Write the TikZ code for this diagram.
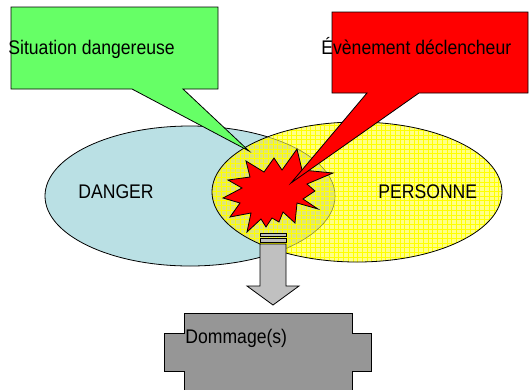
\documentclass[tikz,border=0pt]{standalone}
\usepackage{fontspec}
\setmainfont{Liberation Sans}
\definecolor{dangerblue}{RGB}{186,224,228}
\definecolor{paleyellow}{RGB}{255,255,135}
\definecolor{gridyellow}{RGB}{255,255,0}
\definecolor{overlapfill}{RGB}{224,230,118}
\definecolor{overlapedge}{RGB}{140,140,50}
\definecolor{calloutgreen}{RGB}{102,255,102}
\definecolor{arrowgray}{RGB}{192,192,192}
\definecolor{damagegray}{RGB}{150,150,150}
\begin{document}
\begin{tikzpicture}[x=1pt,y=-1pt,line width=0.8pt,line join=miter,
  lbl/.style={font=\fontsize{17.6}{20}\selectfont,inner sep=0pt,yscale=1.12},
  outlined/.style={draw=black}]
\useasboundingbox (0,0) rectangle (529,389);
\clip (0,0) rectangle (529,389);

% DANGER ellipse
\path[fill=dangerblue,outlined] (190,196) ellipse [x radius=145,y radius=70];

% PERSONNE ellipse: pale yellow, tinted where it covers DANGER, yellow grid
\path[fill=paleyellow] (357,192) ellipse [x radius=145,y radius=70];
\begin{scope}
  \clip (357,192) ellipse [x radius=145,y radius=70];
  \path[fill=overlapfill] (190,196) ellipse [x radius=145,y radius=70];
  \foreach \i in {0,...,62} {
    \draw[gridyellow,line width=0.9pt] ({212+4.7*\i},118) -- ++(0,150);
  }
  \foreach \j in {0,...,31} {
    \draw[gridyellow,line width=0.9pt] (208,{121+4.7*\j}) -- ++(300,0);
  }
  \draw[overlapedge,line width=0.6pt] (190,196) ellipse [x radius=145,y radius=70];
\end{scope}
\draw[outlined] (357,192) ellipse [x radius=145,y radius=70];

% green callout
\path[fill=calloutgreen,outlined] (11,7) -- (218,7) -- (218,89) -- (183,89)
  -- (249,151) -- (132,89) -- (11,89) -- cycle;

% explosion
\path[fill=red,outlined] (246,161) -- (264,172) -- (274,158) -- (282,170)
  -- (297,149) -- (302,170) -- (333,173) -- (307,184) -- (315,191)
  -- (303,199) -- (318,209) -- (297,203) -- (295,223) -- (283,212)
  -- (279,222) -- (272,218) -- (266,227) -- (261,219) -- (247,232)
  -- (251,213) -- (230,217) -- (240,203) -- (223,198) -- (242,188)
  -- (228,180) -- (250,177) -- cycle;

% red callout
\path[fill=red,outlined] (332,12) -- (528,12) -- (528,93) -- (419,93)
  -- (291,183) -- (367,93) -- (332,93) -- cycle;

% striped arrow down
\path[fill=arrowgray,outlined] (260,233) rectangle (286,236);
\path[fill=arrowgray,outlined] (260,238) rectangle (286,242);
\path[fill=arrowgray,outlined] (260,244) -- (286,244) -- (286,286) -- (299,286)
  -- (273,305) -- (247,286) -- (260,286) -- cycle;

% damage box
\path[fill=damagegray,outlined] (184,313) -- (352,313) -- (352,333) -- (371,333)
  -- (371,371) -- (352,371) -- (352,400) -- (184,400) -- (184,371)
  -- (164,371) -- (164,333) -- (184,333) -- cycle;

% labels
\node[lbl,anchor=base west] (sit) at (8,54.5) {Situation dangereuse};
\node[lbl,anchor=base west] (evt) at (321,54.5) {Évènement déclencheur};
\node[lbl,anchor=base west] (dgr) at (78,198) {DANGER};
\node[lbl,anchor=base west] (pers) at (378,198) {PERSONNE};
\node[lbl,anchor=base west] (dmg) at (185,343.5) {Dommage(s)};
\end{tikzpicture}
\end{document}
